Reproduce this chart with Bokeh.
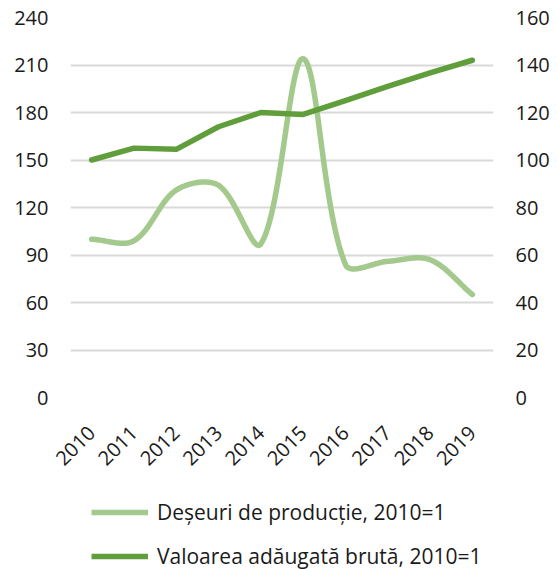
import numpy as np
from bokeh.plotting import figure
from bokeh.layouts import column
from bokeh.models import Range1d, LinearAxis, FixedTicker, Legend, LegendItem
from bokeh.embed import file_html
from bokeh.resources import INLINE

years = [2010, 2011, 2012, 2013, 2014, 2015, 2016, 2017, 2018, 2019]
waste = [100, 99, 131, 134, 97, 214, 84, 86, 87, 65]
gva = [100, 105, 104.5, 114, 120, 119.2, 125, 131, 136.7, 142]
left_ticks = [0, 30, 60, 90, 120, 150, 180, 210, 240]
right_ticks = [0, 20, 40, 60, 80, 100, 120, 140, 160]
series_names = ["Deșeuri de producție, 2010=1", "Valoarea adăugată brută, 2010=1"]

LIGHT = "#a4c98d"
DARK = "#5f9e3a"
FONT = "Open Sans"
FS = "20px"
TXT = "#1a1a1a"

FRAME_W, FRAME_H = 423, 380


def smooth(xs, ys, xspan, yspan, n=40):
    # spreadsheet-like smoothed line: cubic Bezier with control points
    # scaled by neighbouring segment lengths in screen space
    xs = np.asarray(xs, float)
    ys = np.asarray(ys, float)
    sx = FRAME_W / xspan
    sy = FRAME_H / yspan
    m = len(xs)
    pts = np.column_stack([xs, ys])
    d = [np.hypot((xs[i + 1] - xs[i]) * sx, (ys[i + 1] - ys[i]) * sy) for i in range(m - 1)]
    ox, oy = [], []
    for i in range(m - 1):
        p1, p2 = pts[i], pts[i + 1]
        if i == 0:
            c1 = p1 + (p2 - p1) / 3
        else:
            p0 = pts[i - 1]
            c1 = p1 + (p2 - p0) * d[i] / (d[i - 1] + d[i]) / 3
        if i == m - 2:
            c2 = p2 - (p2 - p1) / 3
        else:
            p3 = pts[i + 2]
            c2 = p2 - (p3 - p1) * d[i] / (d[i] + d[i + 1]) / 3
        t = np.linspace(0, 1, n, endpoint=(i == m - 2))
        b0 = (1 - t) ** 3
        b1 = 3 * (1 - t) ** 2 * t
        b2 = 3 * (1 - t) * t ** 2
        b3 = t ** 3
        ox.extend((b0 * p1[0] + b1 * c1[0] + b2 * c2[0] + b3 * p2[0]).tolist())
        oy.extend((b0 * p1[1] + b1 * c1[1] + b2 * c2[1] + b3 * p2[1]).tolist())
    return ox, oy


p = figure(frame_width=FRAME_W, frame_height=FRAME_H, output_backend="svg", toolbar_location=None,
           x_range=Range1d(2009.5, 2019.5), y_range=Range1d(0, 240),
           min_border_left=70, min_border_right=48, min_border_top=17, min_border_bottom=55)
p.extra_y_ranges = {"right": Range1d(0, 160)}
p.outline_line_color = None
p.background_fill_color = "white"
p.border_fill_color = "white"

wx, wy = smooth(years, waste, 10.0, 240.0)
p.line(wx, wy, line_color=LIGHT, line_width=5.5, line_cap="round", line_join="round")
p.line(years, gva, y_range_name="right", line_color=DARK, line_width=5.5,
       line_cap="round", line_join="round")

p.xgrid.grid_line_color = None
p.ygrid.grid_line_color = "#d9d9d9"
p.ygrid.grid_line_width = 2
p.ygrid.ticker = FixedTicker(ticks=left_ticks)

p.xaxis.ticker = FixedTicker(ticks=years)
p.xaxis.major_label_orientation = np.pi / 4
p.yaxis.ticker = FixedTicker(ticks=left_ticks)

ra = LinearAxis(y_range_name="right", ticker=FixedTicker(ticks=right_ticks))
p.add_layout(ra, "right")

for ax in [p.xaxis[0], p.yaxis[0], ra]:
    ax.axis_line_color = None
    ax.major_tick_line_color = None
    ax.minor_tick_line_color = None
    ax.major_tick_out = 0
    ax.major_tick_in = 0
    ax.minor_tick_out = 0
    ax.major_label_text_font = FONT
    ax.major_label_text_font_size = FS
    ax.major_label_text_color = TXT
    ax.major_label_standoff = 22
p.xaxis.major_label_standoff = 32

# legend figure
q = figure(width=541, height=109, output_backend="svg", toolbar_location=None,
           x_range=Range1d(0, 1), y_range=Range1d(0, 1),
           x_axis_type=None, y_axis_type=None, min_border=0)
q.grid.visible = False
q.outline_line_color = None
q.border_fill_color = "white"
l1 = q.line([np.nan], [np.nan], line_color=LIGHT, line_width=5.5)
l2 = q.line([np.nan], [np.nan], line_color=DARK, line_width=5.5)

legend = Legend(items=[LegendItem(label=series_names[0], renderers=[l1]),
                       LegendItem(label=series_names[1], renderers=[l2])],
                orientation="vertical", location=(21, 13))
legend.label_text_font = FONT
legend.label_text_font_size = "21px"
legend.label_text_color = TXT
legend.label_standoff = 9
legend.glyph_width = 57
legend.glyph_height = 18
legend.label_height = 18
legend.spacing = 16
legend.border_line_color = None
legend.background_fill_alpha = 0
legend.margin = 0
legend.padding = 0
q.add_layout(legend, "center")

open("out.html", "w").write(file_html(column(p, q, spacing=0), INLINE))
